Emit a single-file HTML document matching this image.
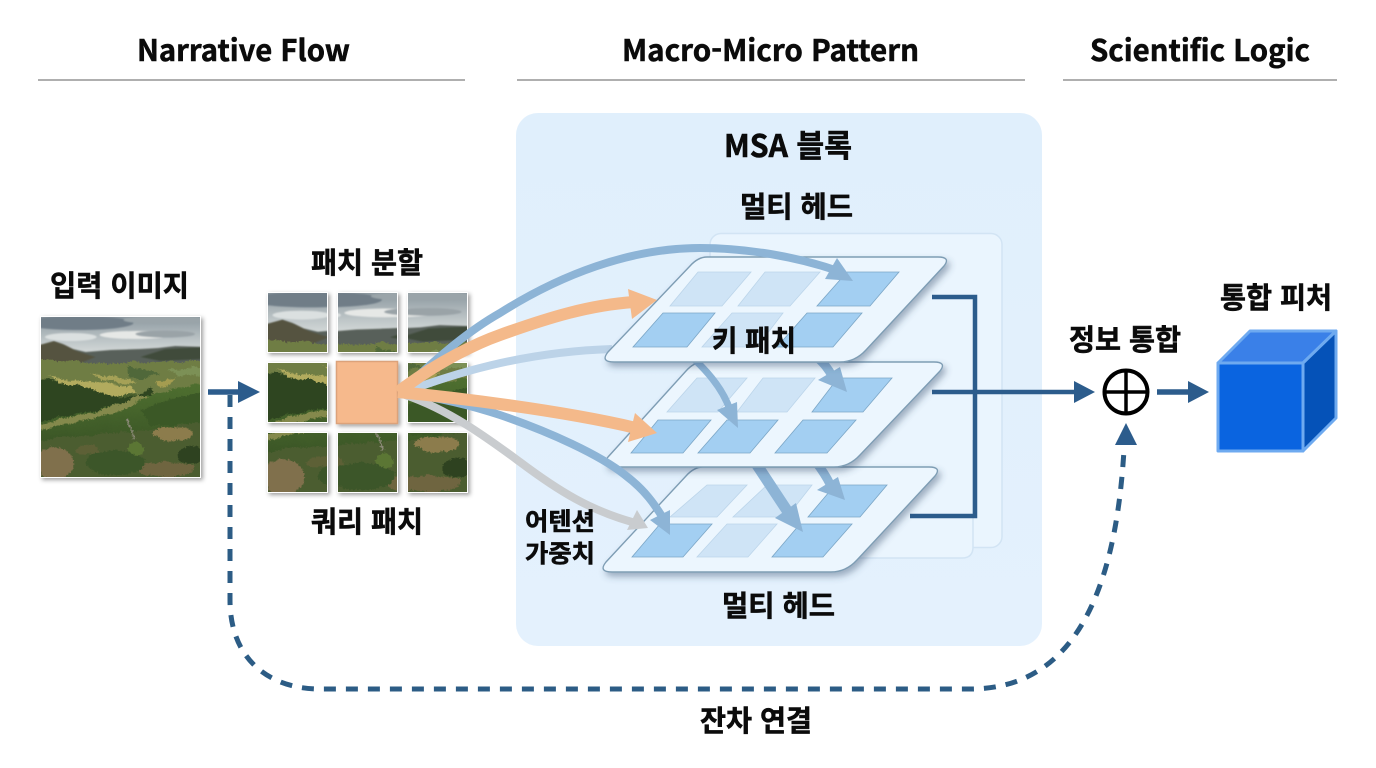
<!DOCTYPE html>
<html lang="ko"><head><meta charset="utf-8"><title>MSA Diagram</title>
<style>html,body{margin:0;padding:0;background:#fff}svg{display:block}
text{font-family:"Noto Sans CJK KR","Liberation Sans",sans-serif;font-weight:700;fill:#0b0b0b;stroke:#0b0b0b;stroke-width:.55px}</style></head>
<body>
<svg width="1376" height="768" viewBox="0 0 1376 768" xmlns="http://www.w3.org/2000/svg">
<defs>
<linearGradient id="sky" x1="0" y1="0" x2="0" y2="1"><stop offset="0" stop-color="#8d99a0"/><stop offset=".55" stop-color="#bcc4c6"/><stop offset="1" stop-color="#dfe3e1"/></linearGradient>
<linearGradient id="hill" x1="0" y1="0" x2="0" y2="1"><stop offset="0" stop-color="#4f7030"/><stop offset="1" stop-color="#3b5626"/></linearGradient>
<linearGradient id="panel" x1="0" y1="0" x2="0" y2="1"><stop offset="0" stop-color="#e0effc"/><stop offset="1" stop-color="#e4f1fd"/></linearGradient>
<filter id="soft" x="-5%" y="-5%" width="110%" height="110%"><feGaussianBlur stdDeviation=".8"/></filter>
<filter id="organic" x="0" y="0" width="100%" height="100%" color-interpolation-filters="sRGB">
 <feTurbulence type="fractalNoise" baseFrequency=".07" numOctaves="3" seed="4" result="n1"/>
 <feDisplacementMap in="SourceGraphic" in2="n1" scale="7" xChannelSelector="R" yChannelSelector="G" result="d1"/>
 <feTurbulence type="fractalNoise" baseFrequency=".55" numOctaves="2" seed="9" result="n2"/>
 <feDisplacementMap in="d1" in2="n2" scale="4" xChannelSelector="G" yChannelSelector="R"/>
</filter>
<filter id="sh" x="-20%" y="-20%" width="140%" height="140%"><feDropShadow dx="2" dy="2" stdDeviation="2" flood-color="#000" flood-opacity=".38"/></filter>
<filter id="psh" x="-10%" y="-15%" width="120%" height="135%"><feDropShadow dx="3" dy="4" stdDeviation="3.5" flood-color="#34506a" flood-opacity=".42"/></filter>
<g id="land">
 <rect width="160" height="160" fill="#4a5f2e"/>
 <rect width="160" height="42" fill="url(#sky)"/>
 <g filter="url(#soft)">
 <ellipse cx="38" cy="6" rx="55" ry="7" fill="#6f7d87"/>
 <ellipse cx="125" cy="3" rx="42" ry="4" fill="#9aa4a9"/>
 <ellipse cx="95" cy="18" rx="36" ry="4" fill="#e6e8e6"/>
 <ellipse cx="125" cy="17" rx="30" ry="3.500" fill="#9aa3a7"/>
 <ellipse cx="30" cy="20" rx="26" ry="4" fill="#dbe0e0"/>
 <path d="M-5,29 L8,26 L13,24 L22,27 L32,32 L45,35 L70,33 L100,32 L118,31 L135,29 L165,30 L165,52 L-5,52Z" fill="#59615a"/>
 <path d="M-5,29 L13,24 L24,28 L36,34 L55,40 L40,46 L-5,46Z" fill="#54523f"/>
 <path d="M100,40 L125,32 L165,30 L165,42 L120,44Z" fill="#3f4c3a"/>
 </g>
 <g filter="url(#organic)">
 <path d="M-5,42 C40,46 80,47 165,43 L165,70 L100,80 L-5,70Z" fill="#6f7d44"/>
 <path d="M128,53 L165,50 L165,58 L140,60Z" fill="#7c9056"/>
 <path d="M85,50 L120,55 L100,63 L90,60Z" fill="#50683a"/>
 <path d="M5,60 L50,65 L92,70 L96,78 L60,79 L25,70Z" fill="#b2ab5e"/>
 <path d="M50,57 L92,62 L96,68 L60,63Z" fill="#a5a157"/>
 <path d="M115,63 L134,62 L126,70 L118,68Z" fill="#a49c50"/>
 <path d="M-5,63 C25,66 60,72 78,80 L95,82 L110,70 L112,76 C100,88 70,94 40,98 L-5,104Z" fill="#2e4520"/>
 <path d="M-5,104 L50,95 L95,82 L165,65 L165,125 L-5,125Z" fill="url(#hill)"/>
 <path d="M-5,107 L50,96 L100,80 L108,80 L70,98 L25,106 L-5,114Z" fill="#84894c"/>
 <path d="M100,92 L165,72 L165,108 L110,108Z" fill="#3b5826"/>
 <path d="M-5,124 C40,120 100,113 165,106 L165,165 L-5,165Z" fill="#4b5d30"/>
 <ellipse cx="14" cy="146" rx="18" ry="17" fill="#80704c"/>
 <ellipse cx="132" cy="117" rx="20" ry="7" fill="#8c7c4c"/>
 <ellipse cx="152" cy="138" rx="14" ry="9" fill="#2e4220"/>
 <ellipse cx="125" cy="152" rx="28" ry="8" fill="#6f6540"/>
 <ellipse cx="75" cy="146" rx="30" ry="12" fill="#3c5629"/>
 <ellipse cx="95" cy="132" rx="9" ry="6" fill="#5b7634"/>
 <ellipse cx="48" cy="133" rx="12" ry="5" fill="#5d6036"/>
 <path d="M87,103 L93,122" stroke="#8c8a78" stroke-width="2"/>
 </g>
</g>
</defs>

<rect width="1376" height="768" fill="#fff"/>

<!-- headers -->
<text x="137" y="61" font-size="29.500" textLength="213" lengthAdjust="spacingAndGlyphs">Narrative Flow</text>
<text x="622" y="61" font-size="29.500" textLength="297" lengthAdjust="spacingAndGlyphs">Macro-Micro Pattern</text>
<text x="1090" y="61" font-size="29.500" textLength="220" lengthAdjust="spacingAndGlyphs">Scientific Logic</text>
<g stroke="#a4a4a4" stroke-width="1.800"><path d="M38,80H465M517,80H1025M1063,80H1337"/></g>

<!-- input image -->
<rect x="40" y="316" width="161" height="162" fill="#fff" filter="url(#sh)"/>
<svg x="41" y="317" width="159" height="160" viewBox="0 0 160 160" preserveAspectRatio="none"><use href="#land"/></svg>

<!-- patches -->
<g>
<rect x="267" y="292" width="61" height="61" fill="#fff" filter="url(#sh)"/><svg x="268" y="293" width="59" height="59" viewBox="0 0 53.3 53.3"><use href="#land"/></svg>
<rect x="337" y="292" width="61" height="61" fill="#fff" filter="url(#sh)"/><svg x="338" y="293" width="59" height="59" viewBox="53.3 0 53.3 53.3"><use href="#land"/></svg>
<rect x="407" y="292" width="61" height="61" fill="#fff" filter="url(#sh)"/><svg x="408" y="293" width="59" height="59" viewBox="106.6 0 53.3 53.3"><use href="#land"/></svg>
<rect x="267" y="362" width="61" height="61" fill="#fff" filter="url(#sh)"/><svg x="268" y="363" width="59" height="59" viewBox="0 53.3 53.3 53.3"><use href="#land"/></svg>
<rect x="407" y="362" width="61" height="61" fill="#fff" filter="url(#sh)"/><svg x="408" y="363" width="59" height="59" viewBox="106.6 53.3 53.3 53.3"><use href="#land"/></svg>
<rect x="267" y="432" width="61" height="61" fill="#fff" filter="url(#sh)"/><svg x="268" y="433" width="59" height="59" viewBox="0 106.6 53.3 53.3"><use href="#land"/></svg>
<rect x="337" y="432" width="61" height="61" fill="#fff" filter="url(#sh)"/><svg x="338" y="433" width="59" height="59" viewBox="53.3 106.6 53.3 53.3"><use href="#land"/></svg>
<rect x="407" y="432" width="61" height="61" fill="#fff" filter="url(#sh)"/><svg x="408" y="433" width="59" height="59" viewBox="106.6 106.6 53.3 53.3"><use href="#land"/></svg>
<rect x="336.500" y="361.500" width="61" height="62" fill="#f6b98c" stroke="#dca27a" stroke-width="1.500" filter="url(#sh)"/>
</g>

<!-- MSA panel -->
<rect x="516" y="113" width="526" height="533" rx="22" fill="url(#panel)"/>
<rect x="710" y="233.500" width="292" height="314" rx="11" fill="#eaf5fe" stroke="#d2e4f4" stroke-width="1.500"/>
<path d="M973,440V547Q973,558 962,558H760" fill="#eaf5fe" stroke="#d2e4f4" stroke-width="1.500"/>

<!-- bracket -->
<g fill="none" stroke="#2c5c8c" stroke-width="4.500">
<path d="M932,297H975V516H910"/>
<path d="M932,392H1078"/>
</g>
<path d="M1095,392L1074,381V403Z" fill="#2c5c8c"/>

<!-- plate 3 -->
<path filter="url(#psh)" d="M703,467L929,467Q942,467 935,476L857,560Q846,572 831,572L612,572Q598,572 606,562L686,476Q694,467 703,467Z" fill="#ecf6fe" stroke="#7e9db4" stroke-width="1.400"/>
<g stroke-width=".8">
<g fill="#cfe4f6" stroke="#bcd5ea">
<path d="M707,485L747,485L717,517L670,517Z"/><path d="M767,485L812,485L787,517L733,517Z"/><path d="M727,524L777,524L748,557L697,557Z"/>
</g>
<g fill="#a3cff2" stroke="#7ba6c6">
<path d="M835,485L887,485L860,517L808,517Z"/><path d="M660,524L712,524L683,557L632,557Z"/><path d="M800,524L852,524L823,557L772,557Z"/>
</g></g>
<!-- arrows onto plate 3 -->
<path d="M755,462L788,512" fill="none" stroke="#8db4d6" stroke-width="11"/>
<path d="M803,532L775,518L796,503Z" fill="#8db4d6"/>
<path d="M816,462C822,470 826,476 830,484" fill="none" stroke="#8db4d6" stroke-width="9"/>
<path d="M845,500L817,490L838,477Z" fill="#8db4d6"/>

<!-- plate 2 -->
<path filter="url(#psh)" d="M703,362L934,362Q947,362 940,371L860,455Q849,467 834,467L614,467Q600,467 608,457L686,371Q694,362 703,362Z" fill="#ecf6fe" stroke="#7e9db4" stroke-width="1.400"/>
<g stroke-width=".8">
<g fill="#cfe4f6" stroke="#bcd5ea">
<path d="M697,378L747,378L718,412L667,412Z"/><path d="M763,378L815,378L787,412L737,412Z"/>
</g>
<g fill="#a3cff2" stroke="#7ba6c6">
<path d="M838,378L892,378L863,412L812,412Z"/><path d="M658,420L711,420L683,453L631,453Z"/><path d="M727,420L778,420L750,453L698,453Z"/><path d="M803,420L856,420L827,453L775,453Z"/>
</g></g>
<!-- arrows onto plate 2 -->
<path d="M695,360C712,376 724,392 730,410" fill="none" stroke="#8db4d6" stroke-width="7"/>
<path d="M738,428L717,410L737,402Z" fill="#8db4d6"/>
<path d="M818,358C824,364 828,368 832,376" fill="none" stroke="#8db4d6" stroke-width="9"/>
<path d="M847,392L818,380L840,367Z" fill="#8db4d6"/>
<!-- pale connector -->
<path d="M405,392C450,375 520,352 612,349" fill="none" stroke="#bcd3e8" stroke-width="8"/>

<!-- plate 1 -->
<path filter="url(#psh)" d="M707,257L938,257Q951,257 944,266L866,350Q855,362 840,362L614,362Q600,362 608,352L690,266Q698,257 707,257Z" fill="#ecf6fe" stroke="#7e9db4" stroke-width="1.400"/>
<g stroke-width=".8">
<g fill="#cfe4f6" stroke="#bcd5ea">
<path d="M698,272L751,272L722,306L670,306Z"/><path d="M765,272L820,272L790,306L738,306Z"/><path d="M732,313L783,313L757,347L702,347Z"/>
</g>
<g fill="#a3cff2" stroke="#7ba6c6">
<path d="M847,272L899,272L870,306L817,306Z"/><path d="M663,313L715,313L687,347L633,347Z"/><path d="M807,313L862,313L833,347L777,347Z"/>
</g></g>

<!-- main curves -->
<g fill="none">
<path d="M405,395C450,410 490,440 520,462C560,492 590,510 632,522" stroke="#c9cccf" stroke-width="8"/>
<path d="M405,393C440,398 470,405 500,415C550,432 600,455 625,475C645,490 655,505 663,518" stroke="#8db4d6" stroke-width="8"/>
<path d="M405,388C440,355 470,330 500,313C560,275 630,248 700,248C750,248 800,258 835,270" stroke="#8db4d6" stroke-width="8"/>
<path d="M398,392C440,360 480,342 500,335C550,317 590,305 634,302" stroke="#f4b98a" stroke-width="12"/>
<path d="M398,392C450,397 560,410 636,428" stroke="#f4b98a" stroke-width="12"/>
</g>
<path d="M648,528L637,510L627,530Z" fill="#c9cccf"/>
<path d="M670,535L670,510L650,520Z" fill="#8db4d6"/>
<path d="M853,281L837,258L825,279Z" fill="#8db4d6"/>
<path d="M657,300L628,289L632,319Z" fill="#f4b98a"/>
<path d="M657,433L635,413L628,442Z" fill="#f4b98a"/>

<!-- flow connectors -->
<path d="M208,392H240" stroke="#2c5c8c" stroke-width="5.500" fill="none"/>
<path d="M260,392L238,381V403Z" fill="#2c5c8c"/>
<path d="M230,395L230,600C230,660 270,689 320,689L970,689C1070,689 1115,600 1124,450" fill="none" stroke="#2c5c85" stroke-width="5" stroke-dasharray="12 10"/>
<path d="M1126,423L1115,445H1137Z" fill="#2c5c8c"/>

<!-- sum -->
<circle cx="1126" cy="392" r="21.500" fill="#fff" stroke="#000" stroke-width="4"/>
<path d="M1104,392H1148M1126,370V414" stroke="#000" stroke-width="3.500"/>
<path d="M1157,392H1190" stroke="#2c5c8c" stroke-width="5.500"/>
<path d="M1209,392L1188,381V403Z" fill="#2c5c8c"/>

<!-- cube -->
<g stroke="#6eaaf0" stroke-width="3" stroke-linejoin="round">
<path d="M1218,363L1250,331H1336L1303,363Z" fill="#3a80e8"/>
<path d="M1303,363L1336,331V418L1303,451Z" fill="#0552b8"/>
<rect x="1218" y="363" width="85" height="88" fill="#0a64e0"/>
</g>

<!-- labels -->
<text x="724" y="157" font-size="31" textLength="128" lengthAdjust="spacingAndGlyphs">MSA 블록</text>
<text x="740" y="217" font-size="29" textLength="113" lengthAdjust="spacingAndGlyphs">멀티 헤드</text>
<text x="712" y="351" font-size="29" textLength="84" lengthAdjust="spacingAndGlyphs">키 패치</text>
<text x="311" y="273" font-size="29" textLength="112" lengthAdjust="spacingAndGlyphs">패치 분할</text>
<text x="50" y="296" font-size="29" textLength="139" lengthAdjust="spacingAndGlyphs">입력 이미지</text>
<text x="311" y="532" font-size="29" textLength="112" lengthAdjust="spacingAndGlyphs">쿼리 패치</text>
<text x="525" y="530" font-size="24.500" textLength="70" lengthAdjust="spacingAndGlyphs">어텐션</text>
<text x="525" y="562" font-size="24.500" textLength="70" lengthAdjust="spacingAndGlyphs">가중치</text>
<text x="722" y="616" font-size="29" textLength="113" lengthAdjust="spacingAndGlyphs">멀티 헤드</text>
<text x="700" y="731" font-size="29" textLength="112" lengthAdjust="spacingAndGlyphs">잔차 연결</text>
<text x="1069" y="350" font-size="29" textLength="112" lengthAdjust="spacingAndGlyphs">정보 통합</text>
<text x="1220" y="308" font-size="29" textLength="112" lengthAdjust="spacingAndGlyphs">통합 피처</text>
</svg>
</body></html>
